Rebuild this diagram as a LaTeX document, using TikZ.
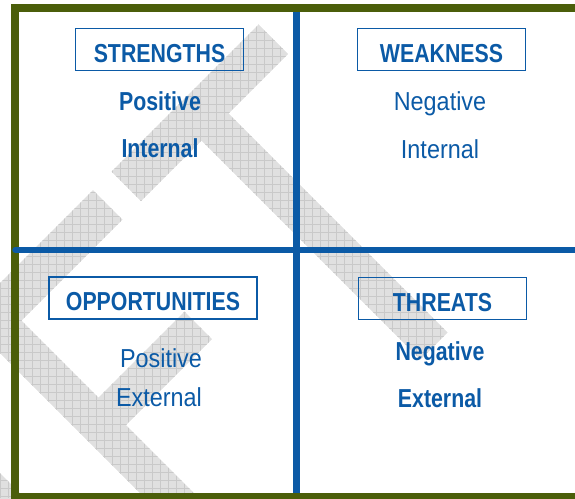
\documentclass[tikz,border=0pt]{standalone}
\usepackage{fontspec}
\setmainfont{Liberation Sans}
\newfontfamily\headfont[FakeStretch=0.82]{Liberation Sans}
\newfontfamily\bodyfont[FakeStretch=0.9]{Liberation Sans}
\usepackage{tikz}

\definecolor{swotblue}{HTML}{0B5AA6}
\definecolor{swotgreen}{HTML}{4B5E0A}
\definecolor{wmgray}{HTML}{E0E0E0}
\definecolor{wmline}{HTML}{C9C9C9}

\tikzset{
  titlebox/.style={draw=swotblue, line width=1.6pt, minimum width=168pt, minimum height=42pt,
    inner sep=0pt, text height=25pt, text depth=0pt, text=swotblue,
    font={\headfont\bfseries\fontsize{26}{30}\selectfont}},
  boldword/.style={anchor=base, inner sep=0pt, text=swotblue,
    font={\headfont\bfseries\fontsize{26}{30}\selectfont}},
  lightword/.style={anchor=base, inner sep=0pt, text=swotblue,
    font={\bodyfont\fontsize{26}{30}\selectfont}},
  uv/.style={x={(0.5pt,-0.5pt)}, y={(-0.5pt,-0.5pt)}}
}

\begin{document}
\begin{tikzpicture}[x=1pt, y=-1pt]
\useasboundingbox (0,0) rectangle (575,498);
\clip (0,0) rectangle (575,498);
% diagonal watermark bands, given as u=x+y and v=y-x ranges
\fill[wmgray, uv] \foreach \ua/\ub/\va/\vb in {283/342/-234/60, 340/780/-115/-61,
    283/342/97/353, 283/900/299/353, 496/551/127/301, 400/700/473/520}
  { (\ua,\va) -- (\ub,\va) -- (\ub,\vb) -- (\ua,\vb) -- cycle };
\begin{scope}
\clip[uv] \foreach \ua/\ub/\va/\vb in {283/342/-234/60, 340/780/-115/-61,
    283/342/97/353, 283/900/299/353, 496/551/127/301, 400/700/473/520}
  { (\ua,\va) -- (\ub,\va) -- (\ub,\vb) -- (\ua,\vb) -- cycle };
\foreach \g in {0,8,...,576} \draw[wmline, line width=0.7pt] (\g,0) -- (\g,498);
\foreach \g in {0,8,...,496} \draw[wmline, line width=0.7pt] (0,\g) -- (575,\g);
\end{scope}
% cross
\coordinate (t) at (296,8);
\coordinate (b) at (296,497);
\coordinate (l) at (15.5,250);
\coordinate (r) at (600,250);
\draw[swotblue, line width=7pt] (t)--(b);
% outer frame
\draw[swotgreen, line width=7.5pt] (600,8) -- (15,8) -- (15,497) -- (600,497);
\draw[swotblue, line width=6.5pt, line cap=round] (l)--(r);
% strengths
\node[titlebox] (s) at (159.5,49.5) {STRENGTHS};
\node[boldword] (s1) at (160,110) {Positive};
\node[boldword] (s2) at (160,157) {Internal};
% weakness
\node[titlebox] (w) at (441.5,49.5) {WEAKNESS};
\node[lightword] (w1) at (440,110) {Negative};
\node[lightword] (w2) at (440,158) {Internal};
% opportunities
\node[titlebox, minimum width=208pt] (o) at (153,298) {OPPORTUNITIES};
\node[lightword] (o1) at (161,367) {Positive};
\node[lightword] (o2) at (159,406) {External};
% threats
\node[titlebox] (th) at (442.5,298.5) {THREATS};
\node[boldword] (th1) at (440,360) {Negative};
\node[boldword] (th2) at (440,407) {External};
\end{tikzpicture}
\end{document}
